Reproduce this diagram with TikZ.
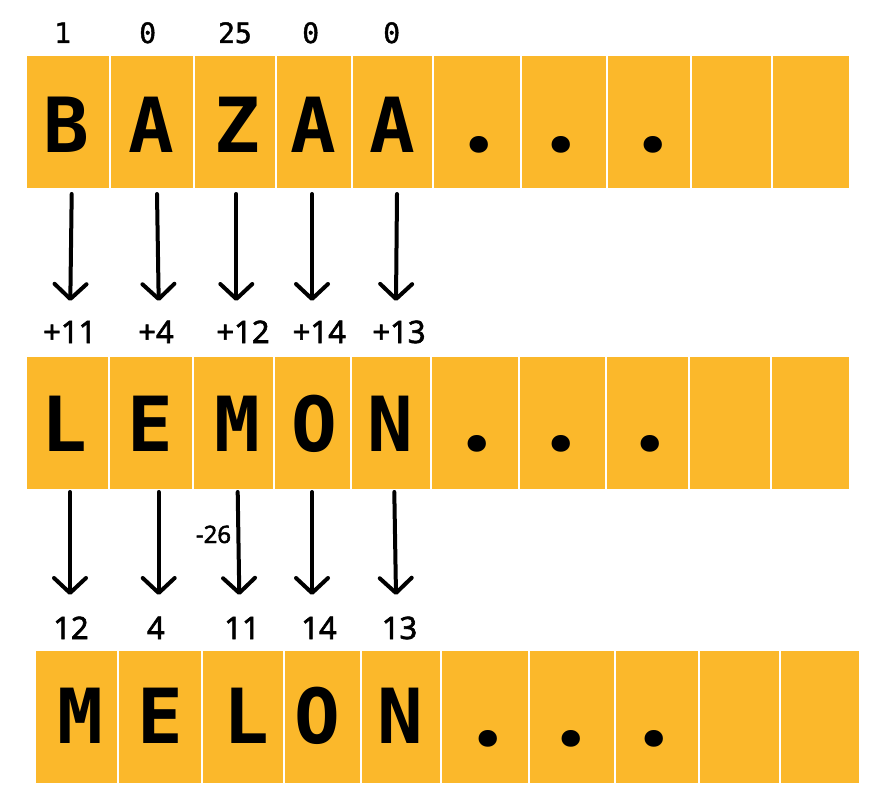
\documentclass[tikz,border=0pt]{standalone}
\usepackage{fontspec}
\setmainfont{Noto Sans}
\newfontfamily\labfont[FakeBold=2]{Noto Sans}
\newfontfamily\monofont{DejaVu Sans Mono}
\newfontfamily\idxfont[FakeBold=1.5]{DejaVu Sans Mono}
\newfontfamily\dotfont{Poppins}
\usetikzlibrary{arrows.meta}
\definecolor{cellfill}{HTML}{FBB82B}
\begin{document}
\begin{tikzpicture}[x=1pt,y=-1pt,
  divider/.style={draw=white, line width=1.5pt},
  bigletter/.style={font=\monofont\bfseries\fontsize{76}{76}\selectfont, anchor=base, inner sep=0pt},
  bigdot/.style={font=\dotfont\bfseries\fontsize{90}{90}\selectfont, anchor=base, inner sep=0pt},
  idx/.style={font=\idxfont\fontsize{28}{28}\selectfont, anchor=base, inner sep=0pt},
  shiftlbl/.style={font=\labfont\fontsize{31}{31}\selectfont, anchor=base, inner sep=0pt},
  smalllbl/.style={font=\labfont\fontsize{24}{24}\selectfont, anchor=base, inner sep=0pt},
  conn/.style={line width=4pt, line cap=round, -{Straight Barb[length=15pt,width=32pt,round]}}
]
\useasboundingbox (0,0) rectangle (888,810);
% rows
\fill[cellfill] (27,56) rectangle (849,188);
\foreach \x in {110,194,276,352,433,521,607,691,772} \draw[divider] (\x,56) -- (\x,188);
\fill[cellfill] (27,357) rectangle (849,489);
\foreach \x in {109,193,274,351,431,519,606,689,771} \draw[divider] (\x,357) -- (\x,489);
\fill[cellfill] (36,651) rectangle (859,783);
\foreach \x in {118,202,284,361,441,529,615,699,780} \draw[divider] (\x,651) -- (\x,783);
% top letters
\node[bigletter] (t1) at (66.5,153) {B};
\node[bigletter] (t2) at (151.5,153) {A};
\node[bigletter] (t3) at (237.5,153) {Z};
\node[bigletter] (t4) at (313,153) {A};
\node[bigletter] (t5) at (392.5,153) {A};
\node[bigdot] (td1) at (478.7,153) {.};
\node[bigdot] (td2) at (561,153) {.};
\node[bigdot] (td3) at (652.7,153) {.};
% top indices
\node[idx] (i1) at (62.7,43) {1};
\node[idx] (i2) at (147.7,43) {0};
\node[idx] (i3) at (235,43) {25};
\node[idx] (i4) at (310.7,43) {0};
\node[idx] (i5) at (391.7,43) {0};
% middle letters
\node[bigletter] (m1) at (64,451) {L};
\node[bigletter] (m2) at (150,451) {E};
\node[bigletter] (m3) at (237,451) {M};
\node[bigletter] (m4) at (314,451) {O};
\node[bigletter] (m5) at (390,451) {N};
\node[bigdot] (md1) at (477.3,451) {.};
\node[bigdot] (md2) at (561,451) {.};
\node[bigdot] (md3) at (649.7,451) {.};
% shift labels
\node[shiftlbl] (s1) at (69.7,343) {+11};
\node[shiftlbl] (s2) at (156,343) {+4};
\node[shiftlbl] (s3) at (243,343) {+12};
\node[shiftlbl] (s4) at (319.3,343) {+14};
\node[shiftlbl] (s5) at (399,343) {+13};
% bottom letters
\node[bigletter] (b1) at (80,743) {M};
\node[bigletter] (b2) at (160,743) {E};
\node[bigletter] (b3) at (246,743) {L};
\node[bigletter] (b4) at (317.5,743) {O};
\node[bigletter] (b5) at (400,743) {N};
\node[bigdot] (bd1) at (487.7,746) {.};
\node[bigdot] (bd2) at (571,746) {.};
\node[bigdot] (bd3) at (653.7,746) {.};
% result labels
\node[shiftlbl] (r1) at (71,639) {12};
\node[shiftlbl] (r2) at (155.8,639) {4};
\node[shiftlbl] (r3) at (242,639) {11};
\node[shiftlbl] (r4) at (319,639) {14};
\node[shiftlbl] (r5) at (399.5,639) {13};
\node[smalllbl] (wrap) at (213.5,543) {-26};
% arrow end points
\coordinate (a1s) at (71.7,194); \coordinate (a1e) at (70.3,301);
\coordinate (a2s) at (157,194);  \coordinate (a2e) at (158.7,301);
\coordinate (a3s) at (236.3,194); \coordinate (a3e) at (236.3,301);
\coordinate (a4s) at (312,194);  \coordinate (a4e) at (312,301);
\coordinate (a5s) at (397,194);  \coordinate (a5e) at (396,301);
\coordinate (c1s) at (70,492);   \coordinate (c1e) at (70,595);
\coordinate (c2s) at (158.7,492); \coordinate (c2e) at (158.7,595);
\coordinate (c3s) at (237.7,492); \coordinate (c3e) at (239.3,595);
\coordinate (c4s) at (312,492);  \coordinate (c4e) at (312,595);
\coordinate (c5s) at (394.3,492); \coordinate (c5e) at (396,595);
\foreach \i in {1,...,5} {
  \draw[conn] (a\i s) -- (a\i e);
  \draw[conn] (c\i s) -- (c\i e);
}
\end{tikzpicture}
\end{document}
